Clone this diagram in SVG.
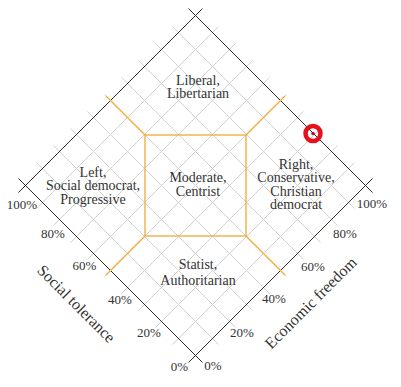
<svg xmlns="http://www.w3.org/2000/svg" width="401" height="387" viewBox="0 0 401 387">
<style>
.grid line{stroke:#d2d2d2;stroke-width:1;fill:none}
.edge line{stroke:#2a2a2a;stroke-width:1;fill:none}
.zone{stroke:#f2a833;stroke-width:1.3;fill:none}
text{font-family:"Liberation Serif","Times New Roman",serif;fill:#333;text-anchor:middle}
.lbl{font-size:14px}
.pct{font-size:13px}
.axis{font-size:16px}
</style>
<rect width="401" height="387" fill="#fff"/>
<g id="grid" class="grid">
<line x1="218.5" y1="344.5" x2="36.5" y2="162.5"/>
<line x1="235.5" y1="327.5" x2="53.5" y2="145.5"/>
<line x1="252.5" y1="310.5" x2="70.5" y2="128.5"/>
<line x1="269.5" y1="293.5" x2="87.5" y2="111.5"/>
<line x1="286.5" y1="276.5" x2="104.5" y2="94.5"/>
<line x1="303.5" y1="259.5" x2="121.5" y2="77.5"/>
<line x1="320.5" y1="242.5" x2="138.5" y2="60.5"/>
<line x1="337.5" y1="225.5" x2="155.5" y2="43.5"/>
<line x1="354.5" y1="208.5" x2="172.5" y2="26.5"/>
<line x1="172.5" y1="344.5" x2="354.5" y2="162.5"/>
<line x1="155.5" y1="327.5" x2="337.5" y2="145.5"/>
<line x1="138.5" y1="310.5" x2="320.5" y2="128.5"/>
<line x1="121.5" y1="293.5" x2="303.5" y2="111.5"/>
<line x1="104.5" y1="276.5" x2="286.5" y2="94.5"/>
<line x1="87.5" y1="259.5" x2="269.5" y2="77.5"/>
<line x1="70.5" y1="242.5" x2="252.5" y2="60.5"/>
<line x1="53.5" y1="225.5" x2="235.5" y2="43.5"/>
<line x1="36.5" y1="208.5" x2="218.5" y2="26.5"/>
</g>
<g id="edges" class="edge">
<line x1="18.5" y1="192.5" x2="202.5" y2="8.5"/>
<line x1="188.5" y1="8.5" x2="372.5" y2="192.5"/>
<line x1="188.5" y1="362.5" x2="372.5" y2="178.5"/>
<line x1="202.5" y1="362.5" x2="18.5" y2="178.5"/>
</g>
<g id="zones">
<rect class="zone" x="145" y="135" width="101" height="101"/>
<path class="zone" d="M145 135L106 96M246 135L285 96M145 236L106 275M246 236L285 275"/>
</g>
<g id="liberal" class="lbl"><text x="198" y="84.5">Liberal,</text><text x="198" y="98">Libertarian</text></g>
<g id="centrist" class="lbl"><text x="198" y="182">Moderate,</text><text x="198" y="195.5">Centrist</text></g>
<g id="left" class="lbl"><text x="93" y="176.5">Left,</text><text x="93" y="190">Social democrat,</text><text x="93" y="203.5">Progressive</text></g>
<g id="right" class="lbl"><text x="296" y="168.5">Right,</text><text x="296" y="182">Conservative,</text><text x="296" y="195.5">Christian</text><text x="296" y="209">democrat</text></g>
<g id="statist" class="lbl"><text x="198" y="268.5">Statist,</text><text x="198" y="284.5">Authoritarian</text></g>
<g id="social-scale" class="pct">
<text x="22" y="208.5">100%</text><text x="53" y="238">80%</text><text x="84.5" y="269.5">60%</text><text x="120" y="303.5">40%</text><text x="149" y="337">20%</text><text x="179.5" y="370.5">0%</text>
</g>
<g id="economic-scale" class="pct">
<text x="372" y="207.5">100%</text><text x="345" y="237.5">80%</text><text x="313" y="270.5">60%</text><text x="274" y="302.5">40%</text><text x="242" y="336.5">20%</text><text x="213" y="369.5">0%</text>
</g>
<g id="axis-social"><text class="axis" x="76" y="309" transform="rotate(45 76 304)">Social tolerance</text></g>
<g id="axis-economic"><text class="axis" x="311" y="308" transform="rotate(-45 311 303)">Economic freedom</text></g>
<g id="marker">
<circle cx="313" cy="133.5" r="7.5" fill="none" stroke="#e8101a" stroke-width="4.5"/>
<circle cx="313" cy="133.5" r="1.8" fill="#c0101a"/>
</g>
</svg>
